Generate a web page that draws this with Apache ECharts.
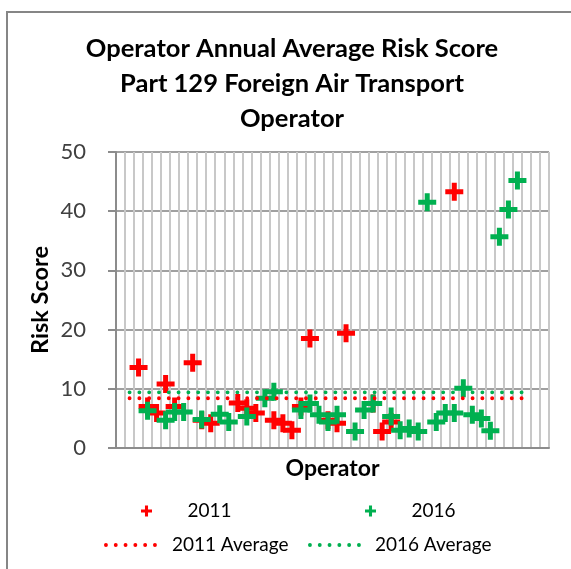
<!DOCTYPE html>
<html>
<head>
<meta charset="utf-8">
<script src="https://cdn.jsdelivr.net/npm/echarts@6/dist/echarts.min.js"></script>
<style>
  html, body { margin: 0; padding: 0; background: #fff; }
  #chart { width: 571px; height: 569px; }
</style>
</head>
<body>
<div id="chart"></div>
<script>
// Operator slots along the x axis (labels are not shown)
const operators = ['1','2','3','4','5','6','7','8','9','10','11','12','13','14','15','16',
  '17','18','19','20','21','22','23','24','25','26','27','28','29','30','31','32',
  '33','34','35','36','37','38','39','40','41','42','43','44','45','46','47','48'];

// Annual average risk score per operator, 2011
const risk2011 = [null, null, 13.6, 7.0, 5.9, 10.8, 7.0, null, 14.4, 4.7, 4.2, null,
  null, 7.6, 6.7, 5.9, null, 4.7, 4.2, 3.0, 7.0, 18.5, null, 4.7,
  4.2, 19.4, null, null, 7.5, 2.8, 4.4, null, null, null, null, null,
  null, 43.3, null, null, null, null, null, null, null, null, null, null];

// Annual average risk score per operator, 2016
const risk2016 = [null, null, null, 6.3, null, 4.7, 6.1, 6.1, null, 4.8, null, 5.7,
  4.4, null, 5.3, null, 8.4, 9.5, null, null, 6.4, 7.5, 5.6, 4.4,
  5.6, null, 2.8, 6.4, 7.5, null, 5.3, 3.0, 3.3, 2.8, 41.5, 4.4,
  5.9, 5.9, 10.1, 5.6, 5.0, 2.9, 35.7, 40.3, 45.2, null, null, null];

// Fleet-wide averages and the operator range they cover
const avg2011 = 8.4;
const avg2016 = 9.4;
const averageSpan = ['2', '46'];

const yTicks = [0, 10, 20, 30, 40, 50];

const RED = '#FF0000';
const GREEN = '#00B050';
const PLUS = 'path://M6.5,0H11.5V6.5H18V11.5H11.5V18H6.5V11.5H0V6.5H6.5Z';
const FONT = 'Lato, "Open Sans", sans-serif';

const dotted = (color) => ({ color: color, width: 3.8, type: [0.1, 9.7], cap: 'round' });
const legendText = { fontFamily: FONT, fontSize: 19, color: '#000', lineHeight: 22 };
const legendDots = { width: 3.8, type: [0.1, 9.7], cap: 'round', dashOffset: -1 };

const chart = echarts.init(document.getElementById('chart'), null, { renderer: 'canvas' });

chart.setOption({
  animation: false,
  backgroundColor: '#fff',
  title: {
    text: 'Operator Annual Average Risk Score\nPart 129 Foreign Air Transport\nOperator',
    left: 292,
    textAlign: 'center',
    top: 31,
    padding: 0,
    textStyle: { fontFamily: FONT, fontWeight: 'bold', fontSize: 25.5, lineHeight: 35, color: '#000' }
  },
  graphic: [{
    type: 'rect',
    shape: { x: 7, y: 12, width: 600, height: 600 },
    style: { fill: 'none', stroke: '#868686', lineWidth: 2 },
    silent: true
  }],
  grid: { left: 116, right: 22, top: 152, bottom: 121 },
  xAxis: {
    type: 'category',
    data: operators,
    boundaryGap: true,
    name: 'Operator',
    nameLocation: 'middle',
    nameGap: 9,
    nameTextStyle: { fontFamily: FONT, fontWeight: 'bold', fontSize: 23, color: '#000', verticalAlign: 'top' },
    axisLine: { lineStyle: { color: '#8c8c8c', width: 2 } },
    axisTick: { show: false },
    axisLabel: { show: false },
    splitLine: { show: true, interval: 0, lineStyle: { color: '#c8c8c8', width: 2 } }
  },
  yAxis: {
    type: 'value',
    min: yTicks[0],
    max: yTicks[yTicks.length - 1],
    interval: 10,
    name: 'Risk Score',
    nameLocation: 'middle',
    nameGap: 64,
    nameMoveOverlap: false,
    nameTextStyle: { fontFamily: FONT, fontWeight: 'bold', fontSize: 23.5, color: '#000' },
    axisLine: { show: true, lineStyle: { color: '#8c8c8c', width: 2 } },
    axisTick: { show: true, length: 8, lineStyle: { color: '#8c8c8c', width: 2 } },
    axisLabel: { fontFamily: FONT, fontSize: 22, color: '#404040', margin: 30 },
    splitLine: { lineStyle: { color: '#a0a0a0', width: 2 } }
  },
  legend: [
    { data: [{ name: '2011', icon: PLUS }], left: 141, top: 500, padding: 0, itemWidth: 72, itemHeight: 11,
      symbolKeepAspect: true, textStyle: legendText },
    { data: [{ name: '2016', icon: PLUS }], left: 365, top: 500, padding: 0, itemWidth: 72, itemHeight: 11,
      symbolKeepAspect: true, textStyle: legendText },
    { data: ['2011 Average'], left: 103, top: 534, padding: 0, itemWidth: 55, itemHeight: 14,
      itemStyle: { opacity: 0 }, lineStyle: legendDots,
      textStyle: Object.assign({ padding: [0, 0, 0, 7] }, legendText) },
    { data: ['2016 Average'], left: 307, top: 534, padding: 0, itemWidth: 55, itemHeight: 14,
      itemStyle: { opacity: 0 }, lineStyle: legendDots,
      textStyle: Object.assign({ padding: [0, 0, 0, 6] }, legendText) }
  ],
  series: [
    { name: '2011', type: 'scatter', data: risk2011, symbol: PLUS, symbolSize: 18,
      itemStyle: { color: RED, opacity: 1 }, z: 2 },
    { name: '2016', type: 'scatter', data: risk2016, symbol: PLUS, symbolSize: 18,
      itemStyle: { color: GREEN, opacity: 1 }, z: 3 },
    { name: '2011 Average', type: 'line', symbol: 'none',
      data: [[averageSpan[0], avg2011], [averageSpan[1], avg2011]],
      lineStyle: dotted(RED), itemStyle: { color: RED }, z: 4 },
    { name: '2016 Average', type: 'line', symbol: 'none',
      data: [[averageSpan[0], avg2016], [averageSpan[1], avg2016]],
      lineStyle: dotted(GREEN), itemStyle: { color: GREEN }, z: 4 }
  ]
});
</script>
</body>
</html>
